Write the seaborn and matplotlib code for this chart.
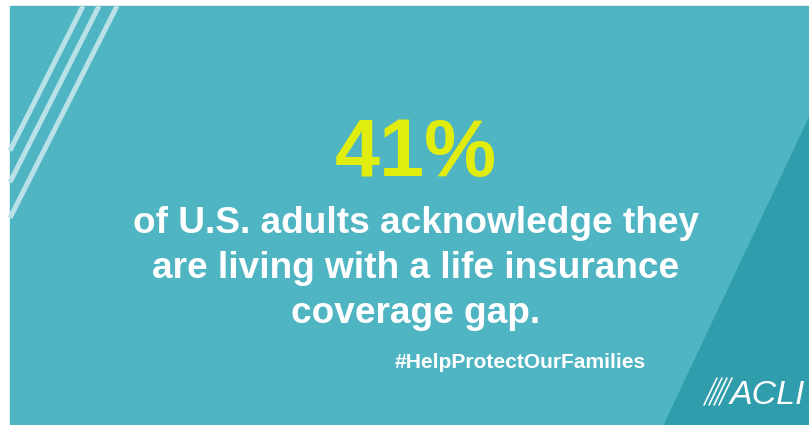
import seaborn as sns
import matplotlib.pyplot as plt
from matplotlib.patches import Polygon, Rectangle

# text content of the card
stat_value = "41%"
body_lines = ["of U.S. adults acknowledge they",
              "are living with a life insurance",
              "coverage gap."]
hashtag = "#HelpProtectOurFamilies"
brand = "ACLI"

teal = "#4fb5c3"
dark_teal = "#2f9dab"
stripe = "#b9e1e7"
yellow = "#e1ec0f"

sns.set_theme(style="white")
plt.rcParams['font.family'] = ['Liberation Sans', 'DejaVu Sans']

W, H = 809, 425
fig = plt.figure(figsize=(W / 100, H / 100), dpi=100)
ax = fig.add_axes([0, 0, 1, 1])
ax.set_xlim(0, W)
ax.set_ylim(H, 0)
ax.axis("off")

px = 72 / 100  # pixels -> points

# background panel
ax.add_patch(Rectangle((10, 6), W - 10, 418, color=teal, zorder=0))
ax.add_patch(Polygon([(W, 117), (W, 424), (664, 424)], closed=True,
                     color=dark_teal, zorder=1))

# three diagonal stripes in the top left corner
for x0 in [83, 99, 117]:
    ax.plot([x0, 10], [6, 6 + (x0 - 10) * 1.98], color=stripe,
            lw=5 * px, solid_capstyle="butt", zorder=2)

ax.text(416, 176, stat_value, color=yellow, fontsize=81 * px,
        fontweight="bold", ha="center", va="baseline", zorder=3)

for y, line in zip([233, 278, 323], body_lines):
    ax.text(416, y, line, color="white", fontsize=37 * px,
            fontweight="bold", ha="center", va="baseline", zorder=3)

ax.text(520, 368, hashtag, color="white", fontsize=21 * px,
        fontweight="bold", ha="center", va="baseline", zorder=3)

# logo: slanted hairlines followed by italic letters
for i in range(4):
    xb = 704 + i * 5
    ax.plot([xb, xb + 13], [405, 378], color="white", lw=1.6 * px, zorder=3)
ax.text(767, 404, brand, color="white", fontsize=34 * px, fontstyle="italic",
        ha="center", va="baseline", zorder=3)

fig.savefig("out.png", dpi=100, facecolor="white")
